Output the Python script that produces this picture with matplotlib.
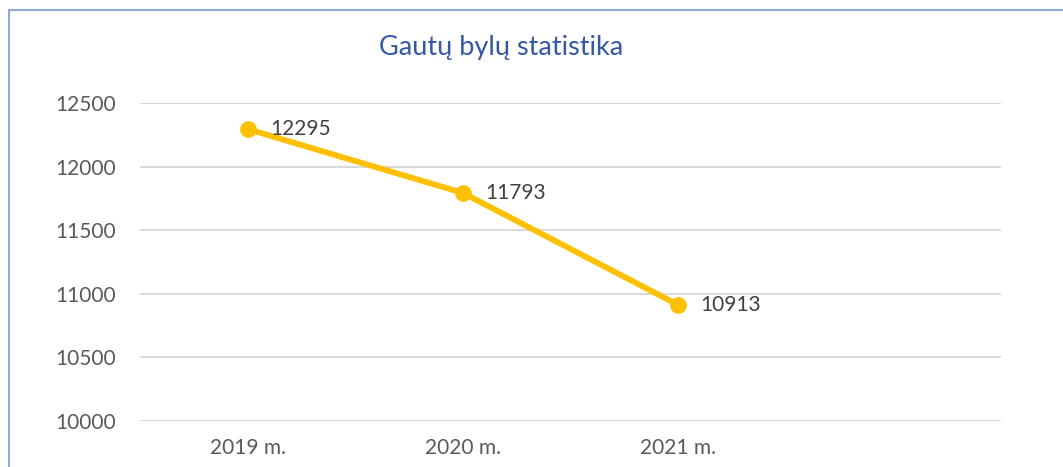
import matplotlib.pyplot as plt
from matplotlib.lines import Line2D

# Data
years = ['2019 m.', '2020 m.', '2021 m.', '']
cases = [12295, 11793, 10913]
y_ticks = [10000, 10500, 11000, 11500, 12000, 12500]

plt.rcParams['font.family'] = ['Lato', 'DejaVu Sans']

fig = plt.figure(figsize=(10.63, 4.67), dpi=100)
ax = fig.add_axes([140 / 1063, 1 - 421 / 467, (1001 - 140) / 1063, (421 - 103) / 467])

x = range(len(cases))
ax.plot(x, cases, color='#FFC000', linewidth=4.2, marker='o', markersize=11,
        solid_capstyle='round', zorder=3)
for xi, v in zip(x, cases):
    ax.annotate(str(v), (xi, v), xytext=(16, 0), textcoords='offset points',
                va='center', ha='left', fontsize=15, color='#404040')

ax.set_xlim(-0.5, len(years) - 0.5)
ax.set_ylim(10000, 12500)
ax.set_yticks(y_ticks)
ax.set_yticklabels([str(t) for t in y_ticks])
ax.set_xticks(range(len(years)))
ax.set_xticklabels(years)
ax.tick_params(length=0, labelsize=15, labelcolor='#595959')
ax.tick_params(axis='y', pad=17)
ax.tick_params(axis='x', pad=12)
ax.grid(axis='y', color='#D9D9D9', linewidth=1.4)
ax.set_axisbelow(True)
for s in ax.spines.values():
    s.set_visible(False)

fig.text(501 / 1063, 1 - 48 / 467, 'Gautų bylų statistika', ha='center', va='center',
         fontsize=19.5, color='#3358A6')

# chart border (cropped at right and bottom)
bx, by = 9 / 1063, 1 - 10 / 467
fig.add_artist(Line2D([bx, bx], [0, by], color='#8FAADC', linewidth=1.5))
fig.add_artist(Line2D([bx, 1], [by, by], color='#8FAADC', linewidth=1.5))

fig.savefig('out.png', dpi=100)
